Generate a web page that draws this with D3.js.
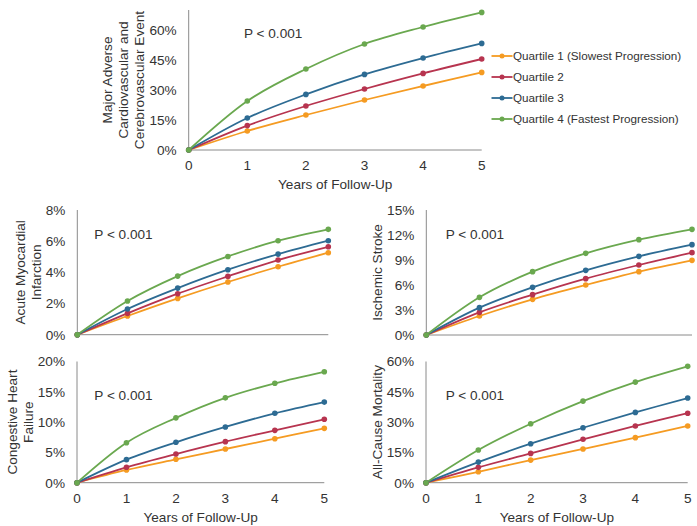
<!DOCTYPE html>
<html><head><meta charset="utf-8">
<script src="https://cdn.jsdelivr.net/npm/d3@7"></script>
<style>body{margin:0;background:#fff}svg{display:block}text{font-family:"Liberation Sans",Arial,sans-serif;fill:#333}</style>
</head><body><svg id="c" width="697" height="526"></svg>
<script>
const years = [0, 1, 2, 3, 4, 5];
const seriesNames = ["Quartile 1 (Slowest Progression)", "Quartile 2", "Quartile 3", "Quartile 4 (Fastest Progression)"];
const colors = ["#F59B22", "#B7344F", "#2D6B93", "#6AA84F"];

// MACCE (%)
const macceQ1 = [0, 9.5, 17.5, 25.0, 32.0, 38.8];
const macceQ2 = [0, 12.2, 22.0, 30.5, 38.3, 45.5];
const macceQ3 = [0, 16.0, 27.8, 37.8, 46.0, 53.3];
const macceQ4 = [0, 24.5, 40.5, 53.0, 61.5, 68.8];
// Acute MI (%)
const amiQ1 = [0, 1.20, 2.33, 3.38, 4.36, 5.26];
const amiQ2 = [0, 1.37, 2.63, 3.74, 4.79, 5.64];
const amiQ3 = [0, 1.65, 2.99, 4.17, 5.17, 6.03];
const amiQ4 = [0, 2.16, 3.76, 5.02, 6.03, 6.76];
// Ischemic stroke (%)
const strokeQ1 = [0, 2.28, 4.28, 6.0, 7.6, 8.96];
const strokeQ2 = [0, 2.72, 4.84, 6.76, 8.4, 9.88];
const strokeQ3 = [0, 3.28, 5.72, 7.76, 9.44, 10.84];
const strokeQ4 = [0, 4.52, 7.6, 9.8, 11.44, 12.68];
// Congestive heart failure (%)
const chfQ1 = [0, 2.1, 3.86, 5.56, 7.26, 8.97];
const chfQ2 = [0, 2.54, 4.73, 6.77, 8.64, 10.46];
const chfQ3 = [0, 3.8, 6.67, 9.2, 11.45, 13.3];
const chfQ4 = [0, 6.6, 10.7, 14.0, 16.4, 18.3];
// All-cause mortality (%)
const acmQ1 = [0, 5.4, 11.2, 16.7, 22.3, 28.1];
const acmQ2 = [0, 7.6, 14.5, 21.5, 28.1, 34.4];
const acmQ3 = [0, 10.2, 19.3, 27.2, 34.8, 41.9];
const acmQ4 = [0, 16.2, 29.2, 40.4, 49.8, 57.6];

const macceTicks = [0, 15, 30, 45, 60];
const amiTicks = [0, 2, 4, 6, 8];
const strokeTicks = [0, 3, 6, 9, 12, 15];
const chfTicks = [0, 5, 10, 15, 20];
const acmTicks = [0, 15, 30, 45, 60];

const pLabel = "P < 0.001";
const xTitle = "Years of Follow-Up";

const panels = [
  {title: ["Major Adverse", "Cardiovascular and", "Cerebrovascular Event"], titleX: [107, 123, 139],
   data: [macceQ1, macceQ2, macceQ3, macceQ4], yMax: 70, ticks: macceTicks,
   x: [188.7, 481.7], y: [150, 10], p: [244, 38], xLabels: true},
  {title: ["Acute Myocardial", "Infarction"], titleX: [20.5, 36],
   data: [amiQ1, amiQ2, amiQ3, amiQ4], yMax: 8, ticks: amiTicks,
   x: [77.3, 328.3], y: [334.7, 210], p: [94.3, 239], xLabels: false},
  {title: ["Ischemic Stroke"], titleX: [377],
   data: [strokeQ1, strokeQ2, strokeQ3, strokeQ4], yMax: 15, ticks: strokeTicks,
   x: [426.3, 692], y: [335, 210], p: [445.7, 239], xLabels: false},
  {title: ["Congestive Heart", "Failure"], titleX: [12.5, 28],
   data: [chfQ1, chfQ2, chfQ3, chfQ4], yMax: 20, ticks: chfTicks,
   x: [77, 324.3], y: [482.7, 361.5], p: [94.3, 400], xLabels: true},
  {title: ["All-Cause Mortality"], titleX: [377],
   data: [acmQ1, acmQ2, acmQ3, acmQ4], yMax: 60, ticks: acmTicks,
   x: [426, 687.7], y: [482.7, 361.5], p: [445.7, 400], xLabels: true}
];

const svg = d3.select("#c");
const FS = 13.6;

panels.forEach(pn => {
  const xs = d3.scaleLinear().domain([0, 5]).range(pn.x);
  const ys = d3.scaleLinear().domain([0, pn.yMax]).range(pn.y);
  const g = svg.append("g");
  // axes lines
  g.append("line").attr("x1", xs(0)).attr("x2", xs(0)).attr("y1", ys(0)).attr("y2", ys(pn.yMax))
    .attr("stroke", "#8a8a8a").attr("stroke-width", 1);
  g.append("line").attr("x1", xs(0)).attr("x2", xs(5)).attr("y1", ys(0)).attr("y2", ys(0))
    .attr("stroke", "#8a8a8a").attr("stroke-width", 1);
  // y tick labels
  g.selectAll(".yt").data(pn.ticks).join("text")
    .attr("x", xs(0) - 12).attr("y", d => ys(d)).attr("dy", "0.36em")
    .attr("text-anchor", "end").style("font-size", FS + "px").text(d => d + "%");
  // x tick labels
  if (pn.xLabels) {
    g.selectAll(".xt").data(years).join("text")
      .attr("x", d => xs(d)).attr("y", ys(0) + 15).attr("dy", "0.36em")
      .attr("text-anchor", "middle").style("font-size", FS + "px").text(d => d);
    g.append("text").attr("x", (pn.x[0] + pn.x[1]) / 2).attr("y", ys(0) + 34).attr("dy", "0.36em")
      .attr("text-anchor", "middle").style("font-size", FS + "px").text(xTitle);
  }
  // y title
  const cy = (pn.y[0] + pn.y[1]) / 2;
  pn.title.forEach((t, i) => {
    g.append("text").attr("transform", `translate(${pn.titleX[i]},${cy}) rotate(-90)`)
      .attr("dy", "0.36em").attr("text-anchor", "middle").style("font-size", FS + "px").text(t);
  });
  // p label
  g.append("text").attr("x", pn.p[0]).attr("y", pn.p[1]).style("font-size", FS + "px").text(pLabel);
  // lines
  const line = d3.line().x((d, i) => xs(years[i])).y(d => ys(d)).curve(d3.curveCatmullRom.alpha(0));
  pn.data.forEach((s, k) => {
    g.append("path").datum(s).attr("d", line).attr("fill", "none")
      .attr("stroke", colors[k]).attr("stroke-width", 1.8);
  });
  pn.data.forEach((s, k) => {
    g.selectAll(null).data(s).join("circle")
      .attr("cx", (d, i) => xs(years[i])).attr("cy", d => ys(d)).attr("r", 2.8)
      .attr("fill", colors[k]);
  });
});

// legend
const leg = svg.append("g");
seriesNames.forEach((n, k) => {
  const yy = 56 + k * 21;
  leg.append("line").attr("x1", 491.5).attr("x2", 512.5).attr("y1", yy).attr("y2", yy)
    .attr("stroke", colors[k]).attr("stroke-width", 1.8);
  leg.append("circle").attr("cx", 502).attr("cy", yy).attr("r", 2.5).attr("fill", colors[k]);
  leg.append("text").attr("x", 513).attr("y", yy).attr("dy", "0.36em")
    .style("font-size", "11.7px").text(n);
});
</script></body></html>
